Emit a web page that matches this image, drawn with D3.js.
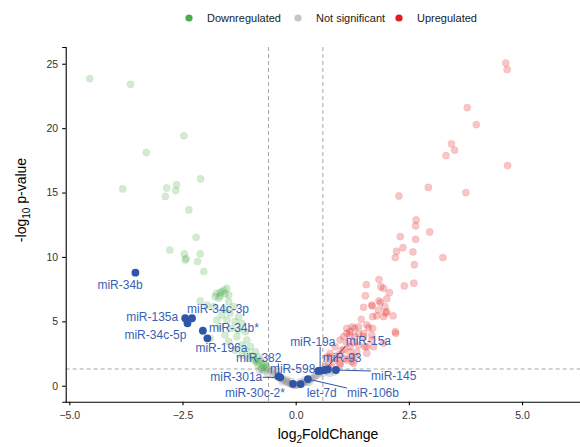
<!DOCTYPE html>
<html>
<head>
<meta charset="utf-8">
<script src="https://cdn.jsdelivr.net/npm/d3@7"></script>
<style>
  html, body { margin: 0; padding: 0; background: #fff; }
  svg { display: block; font-family: "Liberation Sans", Arial, Helvetica, sans-serif; }
</style>
</head>
<body>
<svg id="chart" width="580" height="447"></svg>
<script>
// Differential expression results: [log2FoldChange, -log10 p-value]
const downregulated = [
  [-4.55,23.85],[-3.65,23.4],[-2.47,19.4],[-3.30,18.1],[-2.10,16.06],[-3.82,15.28],[-2.85,15.36],
  [-2.63,15.6],[-2.65,15.15],[-2.88,14.7],[-2.36,13.65],[-2.20,11.53],[-2.78,10.54],[-2.46,10.23],
  [-2.42,9.87],[-2.44,9.77],[-2.11,10.23],[-2.17,9.64],[-2.03,8.86],
  [-1.75,7.18],[-1.67,7.23],[-1.58,7.44],[-1.52,7.57],[-1.48,7.05],[-1.70,6.79],
  [-1.63,7.30],[-1.56,7.13],[-1.67,6.97],[-1.78,6.92],[-2.11,6.60],[-1.96,6.27],[-1.48,6.53],
  [-1.81,6.14],[-1.56,5.94],[-1.37,6.14],[-1.63,5.49],[-1.45,5.63],[-1.26,5.36],[-1.74,5.10],
  [-1.52,5.10],[-1.34,4.97],[-1.19,4.85],[-1.67,4.58],[-1.41,4.46],[-1.26,4.33],[-1.11,4.20],
  [-1.89,3.68],[-1.56,3.94],[-1.30,3.81],[-1.08,3.55],[-1.48,3.42],[-1.19,3.16],[-1.00,3.03],
  [-1.34,2.77],[-1.08,2.64],[-0.89,2.64],[-1.19,2.39],[-0.97,2.31],[-0.82,2.25],[-1.04,2.13],
  [-0.89,1.94],[-0.78,2.00],[-0.71,1.74],[-0.84,1.61],[-0.64,1.48],[-0.75,1.35],
  [-0.68,1.60],[-0.72,1.42],[-0.80,1.78],[-0.66,1.38],[-0.92,2.05],[-0.86,1.85]
];
const notSignificant = [
  [-0.60,1.25],[-0.55,1.10],[-0.50,1.15],[-0.62,0.95],[-0.45,0.95],[-0.48,0.80],[-0.40,0.85],
  [-0.38,0.70],[-0.35,0.60],[-0.30,0.55],[-0.28,0.45],[-0.25,0.40],[-0.22,0.35],[-0.20,0.30],
  [-0.18,0.25],[-0.15,0.20],[-0.12,0.18],[-0.10,0.12],[-0.08,0.10],[-0.05,0.05],[-0.02,0.08],
  [0.00,0.04],[0.03,0.06],[0.05,0.10],[0.08,0.12],[0.12,0.15],[0.15,0.20],[0.18,0.22],
  [0.22,0.30],[0.25,0.35],[0.28,0.40],[0.32,0.48],[0.35,0.55],[0.38,0.62],[0.42,0.70],
  [0.45,0.78],[0.48,0.85],[0.52,0.95],[0.55,1.05],[0.58,1.15],[0.62,1.00],[0.70,1.10],
  [0.75,0.95],[0.80,1.20],[0.85,1.05],[-0.70,1.15],[-0.75,1.25],[-0.80,1.20],[-0.20,0.50],
  [0.10,0.30],[0.20,0.45],[-0.10,0.35],[0.30,0.25],[-0.30,0.30]
];
const upregulated = [
  [4.64,25.05],[4.67,24.55],[3.79,21.6],[3.99,20.28],[3.44,18.78],[3.51,18.29],[3.32,17.87],[4.68,17.09],
  [2.93,15.4],[2.28,14.74],[3.76,15.0],[2.66,12.87],[2.65,12.41],[2.96,11.94],[2.65,11.37],[2.31,11.58],
  [2.37,10.72],[2.23,10.44],[2.20,9.95],[2.59,10.39],[2.62,9.40],[3.25,9.95],[1.84,8.24],[1.56,7.85],
  [1.88,7.69],[1.94,7.57],[2.40,7.75],[2.61,7.96],[2.07,7.23],[1.54,6.99],[2.01,6.74],[1.84,6.60],
  [1.87,6.45],[1.69,6.19],[1.50,6.09],[1.97,6.14],[1.99,5.63],[2.15,5.42],[1.70,5.36],[1.79,5.42],
  [1.45,5.16],[1.25,4.58],[1.13,4.46],[1.30,4.46],[1.61,4.51],[1.70,4.46],[2.21,4.07],[1.13,4.07],
  [1.20,3.94],[1.06,3.81],[1.39,4.02],[1.50,3.81],[1.68,3.94],[0.98,3.55],[1.13,3.29],[1.28,3.34],
  [1.39,3.16],[1.72,3.03],[1.94,3.29],[0.87,3.03],[1.02,2.77],[1.20,2.64],[1.57,2.52],[1.31,2.25],
  [1.13,2.00],[0.91,2.13],[1.53,3.03],[0.76,2.52],[0.83,1.86],[0.72,1.74],[0.98,1.61],[1.24,1.86],
  [0.69,2.25],[0.65,1.48],[0.80,1.35],
  [1.68,6.27],[1.83,5.88],[2.01,5.75],[1.94,5.36],[2.20,4.20],[1.57,4.72],[1.39,4.58],[1.20,4.20],
  [1.31,3.81],[1.50,4.07],[1.68,3.55],[1.57,3.03],[1.20,3.03],[1.06,2.77],[0.94,2.39],[1.09,2.13],
  [1.24,2.25],[1.35,2.64],[0.98,1.74],[0.76,2.25],[1.28,1.74]
];

// Highlighted miRNAs
const highlightNames = ["miR-34b","miR-135a","miR-34c-3p","miR-34c-5p","miR-34b*","miR-196a",
  "miR-382","miR-301a","miR-30c-2*","miR-598","let-7d","miR-106b","miR-19a","miR-15a","miR-93","miR-145"];
const highlightLfc = [-3.54,-2.44,-2.29,-2.39,-2.05,-1.95,-0.38,-0.34,-0.06,0.50,0.11,0.27,0.54,0.64,0.71,0.89];
const highlightP   = [8.78,5.24,5.24,4.85,4.27,3.68,0.72,0.65,0.15,1.15,0.13,0.52,1.17,1.22,1.27,1.22];

const xTicks = [-5, -2.5, 0, 2.5, 5];
const yTicks = [0, 5, 10, 15, 20, 25];
const fcCutoff = 0.6;
const pCutoff = 0.05;

const legendGroups = ["Downregulated", "Not significant", "Upregulated"];
const groupColors = { "Downregulated": "#4cae4a", "Not significant": "#c4c4c4", "Upregulated": "#e41a1c" };

// Label placement (pixel offset of the text anchor from its point)
const labelPlacement = {
  "miR-34b":    { dx: -38, dy: 16,  anchor: "start" },
  "miR-135a":   { dx: -7,  dy: 3,   anchor: "end" },
  "miR-34c-3p": { dx: -5,  dy: -5,  anchor: "start" },
  "miR-34c-5p": { dx: -1,  dy: 16,  anchor: "end" },
  "miR-34b*":   { dx: 6,   dy: 1,   anchor: "start" },
  "miR-196a":   { dx: -12, dy: 14,  anchor: "start" },
  "miR-382":    { dx: 3,   dy: -14, anchor: "end" },
  "miR-301a":   { dx: -18, dy: 4,   anchor: "end" },
  "miR-30c-2*": { dx: -8,  dy: 13,  anchor: "end" },
  "miR-598":    { dx: -3,  dy: 2,   anchor: "end" },
  "let-7d":     { dx: 6,   dy: 13,  anchor: "start" },
  "miR-106b":   { dx: 39,  dy: 18,  anchor: "start" },
  "miR-19a":    { dx: -30, dy: -25, anchor: "start" },
  "miR-15a":    { dx: 21,  dy: -25, anchor: "start" },
  "miR-93":     { dx: -5,  dy: -7,  anchor: "start" },
  "miR-145":    { dx: 35,  dy: 10,  anchor: "start" }
};

const svg = d3.select("#chart");
const plotLeft = 65.7, plotRight = 580, plotTop = 47, plotBottom = 401.7;

const x = d3.scaleLinear().domain([-5.08, 6.28]).range([plotLeft, plotRight]);
const y = d3.scaleLinear().domain([-1.24, 26.3]).range([plotBottom, plotTop]);

// Threshold guides
const guides = svg.append("g")
  .attr("stroke", "#a6a6a6").attr("stroke-width", 1).attr("stroke-dasharray", "4,3").attr("fill", "none");
[-fcCutoff, fcCutoff].forEach(v => {
  guides.append("line").attr("x1", x(v)).attr("x2", x(v)).attr("y1", plotTop).attr("y2", plotBottom);
});
guides.append("line").attr("x1", plotLeft).attr("x2", plotRight)
  .attr("y1", y(-Math.log10(pCutoff))).attr("y2", y(-Math.log10(pCutoff)));

// Points
function drawGroup(data, color, alpha) {
  svg.append("g").selectAll("circle").data(data).join("circle")
    .attr("cx", d => x(d[0])).attr("cy", d => y(d[1])).attr("r", 3.6)
    .attr("fill", color).attr("fill-opacity", alpha)
    .attr("stroke", color).attr("stroke-opacity", alpha * 0.6).attr("stroke-width", 0.6);
}
drawGroup(notSignificant, "#9a9a9a", 0.28);
drawGroup(downregulated, groupColors["Downregulated"], 0.25);
drawGroup(upregulated, groupColors["Upregulated"], 0.25);

// Axes
const xAxis = svg.append("g").attr("transform", `translate(0,${plotBottom})`)
  .call(d3.axisBottom(x).tickValues(xTicks).tickFormat(d3.format(".1f")).tickSizeOuter(0).tickSize(3.5));
const yAxis = svg.append("g").attr("transform", `translate(${plotLeft},0)`)
  .call(d3.axisLeft(y).tickValues(yTicks).tickFormat(d3.format("d")).tickSizeOuter(0).tickSize(3.5));
[xAxis, yAxis].forEach(a => {
  a.select(".domain").attr("stroke", "#000").attr("stroke-width", 1.1);
  a.selectAll(".tick line").attr("stroke", "#000").attr("stroke-width", 1.1);
  a.selectAll(".tick text").attr("fill", "#333").attr("font-size", 10.5)
    .attr("font-family", "Liberation Sans, Arial, sans-serif");
});
xAxis.selectAll(".tick text").attr("dy", "1.05em");
yAxis.selectAll(".tick text").attr("dx", "-1px");
xAxis.select(".domain").attr("d", `M${plotLeft},0.5H${plotRight}`);

// Axis titles
const xt = svg.append("text").attr("x", 328).attr("y", 439)
  .attr("text-anchor", "middle").attr("font-size", 14).attr("fill", "#000");
xt.append("tspan").text("log");
xt.append("tspan").attr("font-size", 10).attr("dy", 4).text("2");
xt.append("tspan").attr("dy", -4).text("FoldChange");

const yt = svg.append("text").attr("transform", "translate(26,200) rotate(-90)")
  .attr("text-anchor", "middle").attr("font-size", 14).attr("fill", "#000");
yt.append("tspan").text("-log");
yt.append("tspan").attr("font-size", 10).attr("dy", 4).text("10");
yt.append("tspan").attr("dy", -4).text(" p-value");

// Highlighted points with repelled labels
const blue = "#2f55a8";
const hl = highlightNames.map((n, i) => ({ name: n, lfc: highlightLfc[i], p: highlightP[i] }));
const segLayer = svg.append("g").attr("stroke", blue).attr("stroke-width", 1);
const labelLayer = svg.append("g");
svg.append("g").selectAll("circle").data(hl).join("circle")
  .attr("cx", d => x(d.lfc)).attr("cy", d => y(d.p)).attr("r", 3.9).attr("fill", blue);

hl.forEach(d => {
  const pl = labelPlacement[d.name];
  const px = x(d.lfc), py = y(d.p);
  const t = labelLayer.append("text")
    .attr("x", px + pl.dx).attr("y", py + pl.dy)
    .attr("text-anchor", pl.anchor).attr("font-size", 12).attr("fill", "#3a5fb4")
    .text(d.name);
  const b = t.node().getBBox();
  // nearest point of the label box to its marker
  const cx = Math.max(b.x, Math.min(px, b.x + b.width));
  const cy = Math.max(b.y + 2, Math.min(py, b.y + b.height - 2));
  const dist = Math.hypot(cx - px, cy - py);
  if (dist > 9) {
    segLayer.append("line").attr("x1", px).attr("y1", py).attr("x2", cx).attr("y2", cy);
  }
});

// Legend
const lg = svg.append("g").attr("font-size", 11);
const legendX = [189, 298, 399];
legendGroups.forEach((g, i) => {
  lg.append("circle").attr("cx", legendX[i]).attr("cy", 18).attr("r", 3.6).attr("fill", groupColors[g]);
  lg.append("text").attr("x", legendX[i] + 18).attr("y", 22).attr("fill", "#1a1a1a").text(g);
});
</script>
</body>
</html>
